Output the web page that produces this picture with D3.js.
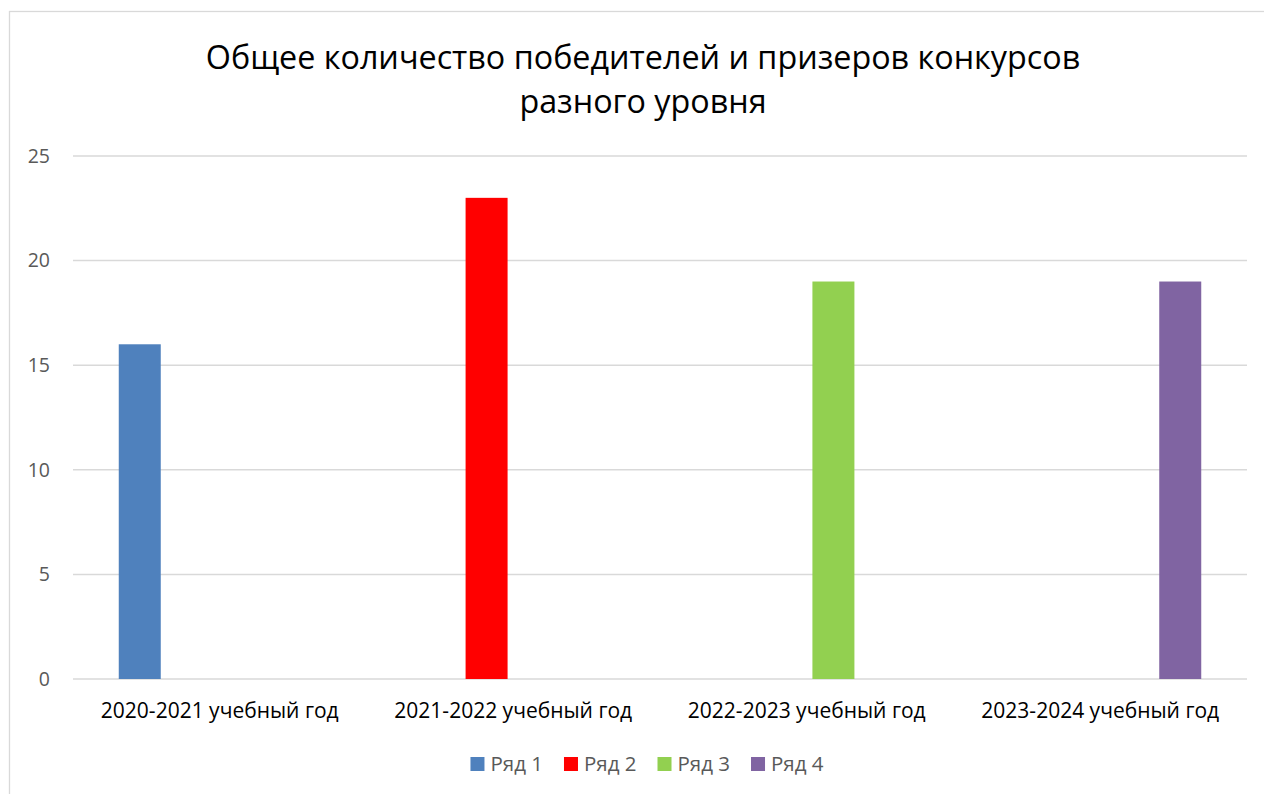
<!DOCTYPE html>
<html>
<head>
<meta charset="utf-8">
<script src="https://cdn.jsdelivr.net/npm/d3@7"></script>
<style>
  body { margin: 0; background: #fff; }
  svg { display: block; }
</style>
</head>
<body>
<div id="chart"></div>
<script>
let w = 1264; let h = 794;

// data
let titleLines = ["Общее количество победителей и призеров конкурсов", "разного уровня"];
let categories = ["2020-2021 учебный год", "2021-2022 учебный год", "2022-2023 учебный год", "2023-2024 учебный год"];
let seriesNames = ["Ряд 1", "Ряд 2", "Ряд 3", "Ряд 4"];
let row1 = [16, null, null, null];
let row2 = [null, 23, null, null];
let row3 = [null, null, 19, null];
let row4 = [null, null, null, 19];
let yTicks = [0, 5, 10, 15, 20, 25];
let colors = ["#4F81BD", "#FF0000", "#92D050", "#8064A2"];

let rows = [row1, row2, row3, row4];
let font = "'Open Sans', sans-serif";

let svg = d3.select("#chart").append("svg");
svg.attr("width", w).attr("height", h);

// chart border (runs off to the right and bottom)
svg.append("rect")
  .attr("x", 9.5).attr("y", 11.5)
  .attr("width", 1300).attr("height", 820)
  .attr("fill", "#fff")
  .attr("stroke", "#d9d9d9")
  .attr("stroke-width", 1.3);

// title
svg.append("g").selectAll("text").data(titleLines).enter().append("text")
  .attr("x", 643)
  .attr("y", (d, i) => 69 + i * 44)
  .attr("text-anchor", "middle")
  .attr("font-family", font)
  .attr("font-size", "32.3px")
  .attr("fill", "#000")
  .text(d => d);

// scales
let x0 = d3.scaleBand().domain(categories).range([73, 1247]).padding(0);
let x1 = d3.scaleBand().domain(seriesNames).range([0, x0.bandwidth()])
  .paddingInner(0.2125).paddingOuter(0.858);
let y = d3.scaleLinear().domain([0, 25]).range([679, 156]);

// gridlines
svg.append("g").selectAll("line").data(yTicks).enter().append("line")
  .attr("x1", 73).attr("x2", 1247)
  .attr("y1", d => y(d)).attr("y2", d => y(d))
  .attr("stroke", "#d9d9d9")
  .attr("stroke-width", 1.5);

// y axis labels
let yAxis = svg.append("g")
  .attr("transform", "translate(50, 0)")
  .call(d3.axisLeft(y).tickValues(yTicks).tickSize(0).tickPadding(0));
yAxis.select(".domain").remove();
yAxis.selectAll("text")
  .attr("font-family", font)
  .attr("font-size", "19.5px")
  .attr("fill", "#595959");

// bars
rows.forEach((row, s) => {
  let pts = categories.map((c, i) => ({ cat: c, v: row[i] })).filter(d => d.v != null);
  svg.append("g").selectAll("rect").data(pts).enter().append("rect")
    .attr("x", d => x0(d.cat) + x1(seriesNames[s]))
    .attr("width", x1.bandwidth())
    .attr("y", d => y(d.v))
    .attr("height", d => y(0) - y(d.v))
    .attr("fill", colors[s]);
});

// category labels
let xAxis = svg.append("g")
  .attr("transform", "translate(0, 679)")
  .call(d3.axisBottom(x0).tickSize(0).tickPadding(0));
xAxis.select(".domain").remove();
xAxis.selectAll("text")
  .attr("dy", null)
  .attr("y", 39)
  .attr("font-family", font)
  .attr("font-size", "21px")
  .attr("fill", "#000");

// legend
let legend = svg.append("g");
let items = legend.selectAll("g").data(seriesNames).enter().append("g");
items.append("rect")
  .attr("width", 14).attr("height", 14)
  .attr("y", -14)
  .attr("fill", (d, i) => colors[i]);
items.append("text")
  .attr("x", 20)
  .attr("y", 0)
  .attr("font-family", font)
  .attr("font-size", "20.5px")
  .attr("fill", "#595959")
  .text(d => d);
let cx = 0;
items.each(function () {
  let tw = d3.select(this).select("text").node().getComputedTextLength();
  d3.select(this).attr("transform", "translate(" + cx + ",0)");
  cx += 20 + tw + 21;
});
let total = cx - 21;
legend.attr("transform", "translate(" + (647 - total / 2) + ", 771)");
</script>
</body>
</html>
